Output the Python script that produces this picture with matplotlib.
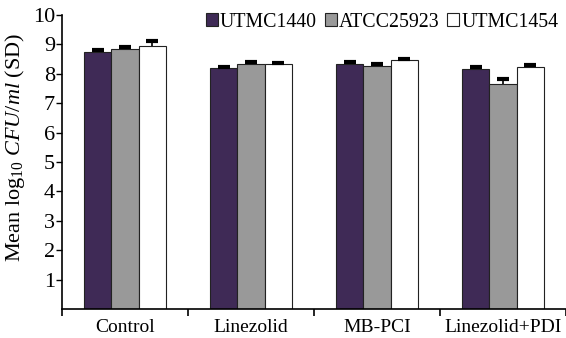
import numpy as np
import matplotlib
matplotlib.use("Agg")
from matplotlib import pyplot as plt

plt.rcParams['font.family'] = ['Liberation Serif', 'DejaVu Serif']
plt.rcParams['mathtext.fontset'] = 'custom'
plt.rcParams['mathtext.rm'] = 'Liberation Serif'
plt.rcParams['mathtext.it'] = 'Liberation Serif:italic'

# data
groups = ['Control', 'Linezolid', 'MB-PCI', 'Linezolid+PDI']
series = ['UTMC1440', 'ATCC25923', 'UTMC1454']
utmc1440 = [8.75, 8.19, 8.35, 8.17]
atcc25923 = [8.85, 8.34, 8.28, 7.66]
utmc1454 = [8.95, 8.33, 8.47, 8.24]
err1440 = [0.05, 0.05, 0.05, 0.05]
err25923 = [0.05, 0.05, 0.05, 0.17]
err1454 = [0.15, 0.05, 0.05, 0.05]

colors = ['#3f2a56', '#999999', '#ffffff']

fig = plt.figure(figsize=(5.66, 3.38), dpi=100)
ax = fig.add_axes([0.1095, 0.0858, 0.8905, 0.8698])

x = np.arange(len(groups))
w = 0.215
vals = [utmc1440, atcc25923, utmc1454]
errs = [err1440, err25923, err1454]
for i in range(3):
    pos = x + (i - 1) * w
    ax.bar(pos, vals[i], w, color=colors[i], edgecolor='#222222', linewidth=0.8,
           label=series[i], zorder=2)
    eb = ax.errorbar(pos, vals[i], yerr=[np.zeros(4), errs[i]], fmt='none',
                     ecolor='black', elinewidth=1.2, capsize=4, capthick=3, zorder=3)
    eb[1][0].set_visible(False)  # hide the lower caps

ax.set_xlim(-0.5, 3.38)
ax.set_ylim(0, 10)
ax.set_yticks(range(1, 11))
ax.set_xticks(x)
ax.set_xticklabels(groups, fontsize=14)
ax.set_xticks(np.arange(-0.5, 4, 1), minor=True)
ax.tick_params(axis='x', which='major', length=0, pad=7)
ax.tick_params(axis='x', which='minor', length=5, direction='out', width=1.2)
ax.tick_params(axis='y', labelsize=16, length=4, width=1, pad=1)
ax.spines['top'].set_visible(False)
ax.spines['right'].set_visible(False)
ax.spines['left'].set_linewidth(1.2)
ax.spines['bottom'].set_linewidth(1.2)
ax.set_ylabel(r'Mean log$_{10}$ $CFU/ml$ (SD)', fontsize=16)
ax.yaxis.set_label_coords(-0.07, 0.55)

ax.legend(loc='upper right', bbox_to_anchor=(1.0, 1.035), ncol=3, frameon=False,
          fontsize=14.3, handlelength=0.6, handleheight=0.6, handletextpad=0.1,
          columnspacing=0.4, borderaxespad=0)

plt.savefig('out.png', dpi=100)
